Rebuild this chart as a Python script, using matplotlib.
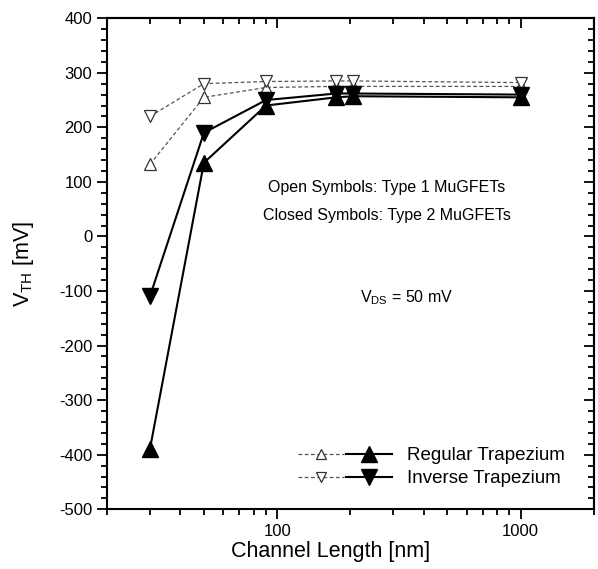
import matplotlib
matplotlib.use("Agg")
import matplotlib.pyplot as plt
from matplotlib.ticker import MultipleLocator, LogLocator, FixedLocator, NullFormatter, FuncFormatter
from matplotlib.legend_handler import HandlerTuple
from matplotlib.lines import Line2D

plt.rcParams['font.family'] = ['Liberation Sans', 'DejaVu Sans']
plt.rcParams['axes.unicode_minus'] = False

length = [30, 50, 90, 175, 205, 1000]
reg_type1 = [132, 255, 273, 275, 275, 275]
inv_type1 = [220, 280, 284, 285, 285, 282]
reg_type2 = [-390, 135, 240, 255, 257, 255]
inv_type2 = [-110, 190, 250, 262, 262, 260]

fig = plt.figure(figsize=(5.98, 5.69), dpi=100)
ax = fig.add_axes([0.179, 0.105, 0.814, 0.863])

dash_kw = dict(color='#555555', lw=0.9, ls=(0, (3, 2)), mfc='white', mec='#333333', mew=0.9, ms=8)
solid_kw = dict(color='black', lw=1.5, ls='-', mfc='black', mec='black', ms=12)

ax.plot(length, reg_type1, marker='^', zorder=2, **dash_kw)
ax.plot(length, inv_type1, marker='v', zorder=2, **dash_kw)
ax.plot(length, reg_type2, marker='^', zorder=3, **solid_kw)
ax.plot(length, inv_type2, marker='v', zorder=3, **solid_kw)

ax.set_xscale('log')
ax.set_xlim(20, 2000)
ax.set_ylim(-500, 400)
ax.yaxis.set_major_locator(MultipleLocator(100))
ax.yaxis.set_minor_locator(MultipleLocator(20))
ax.xaxis.set_major_locator(FixedLocator([100, 1000]))
ax.xaxis.set_major_formatter(FuncFormatter(lambda v, p: f"{int(v)}"))
ax.xaxis.set_minor_locator(LogLocator(base=10, subs=range(2, 10)))
ax.xaxis.set_minor_formatter(NullFormatter())

for s in ax.spines.values():
    s.set_linewidth(1.5)
ax.tick_params(which='both', direction='out', width=1.3, labelsize=12, top=False, right=False)
ax.tick_params(which='major', length=7)
ax.tick_params(which='minor', length=4)
sec_x = ax.secondary_xaxis('top')
sec_x.xaxis.set_major_locator(FixedLocator([100, 1000]))
sec_x.xaxis.set_minor_locator(LogLocator(base=10, subs=range(2, 10)))
sec_x.tick_params(which='both', direction='in', width=1.3, labeltop=False)
sec_x.tick_params(which='major', length=7)
sec_x.tick_params(which='minor', length=4)
sec_x.xaxis.set_minor_formatter(NullFormatter())
sec_x.spines['top'].set_linewidth(1.5)
sec_y = ax.secondary_yaxis('right')
sec_y.yaxis.set_major_locator(MultipleLocator(100))
sec_y.yaxis.set_minor_locator(MultipleLocator(20))
sec_y.tick_params(which='both', direction='in', width=1.3, labelright=False)
sec_y.tick_params(which='major', length=7)
sec_y.tick_params(which='minor', length=4)
sec_y.spines['right'].set_linewidth(1.5)

ax.set_xlabel('Channel Length [nm]', fontsize=15.5)
ax.xaxis.set_label_coords(0.46, -0.065)
ax.set_ylabel(r'V$_{\mathregular{TH}}$ [mV]', fontsize=15.5)
ax.yaxis.set_label_coords(-0.145, 0.5)

ax.text(0.575, 0.655, 'Open Symbols: Type 1 MuGFETs', transform=ax.transAxes, ha='center', va='center', fontsize=11.5)
ax.text(0.575, 0.598, 'Closed Symbols: Type 2 MuGFETs', transform=ax.transAxes, ha='center', va='center', fontsize=11.5)
ax.text(0.615, 0.43, r'V$_{\mathregular{DS}}$ = 50 mV', transform=ax.transAxes, ha='center', va='center', fontsize=11.5)

leg_dash = dict(dash_kw, ms=7)
h1a = Line2D([], [], marker='^', **leg_dash)
h1b = Line2D([], [], marker='^', **solid_kw)
h2a = Line2D([], [], marker='v', **leg_dash)
h2b = Line2D([], [], marker='v', **solid_kw)
leg = ax.legend([(h1a, h1b), (h2a, h2b)], ['Regular Trapezium', 'Inverse Trapezium'],
                handler_map={tuple: HandlerTuple(ndivide=None, pad=0.1)},
                loc='lower right', bbox_to_anchor=(0.975, 0.01), frameon=False,
                handlelength=5.0, fontsize=13.5, labelspacing=0.33, handletextpad=0.8)

fig.savefig('out.png', dpi=100)
